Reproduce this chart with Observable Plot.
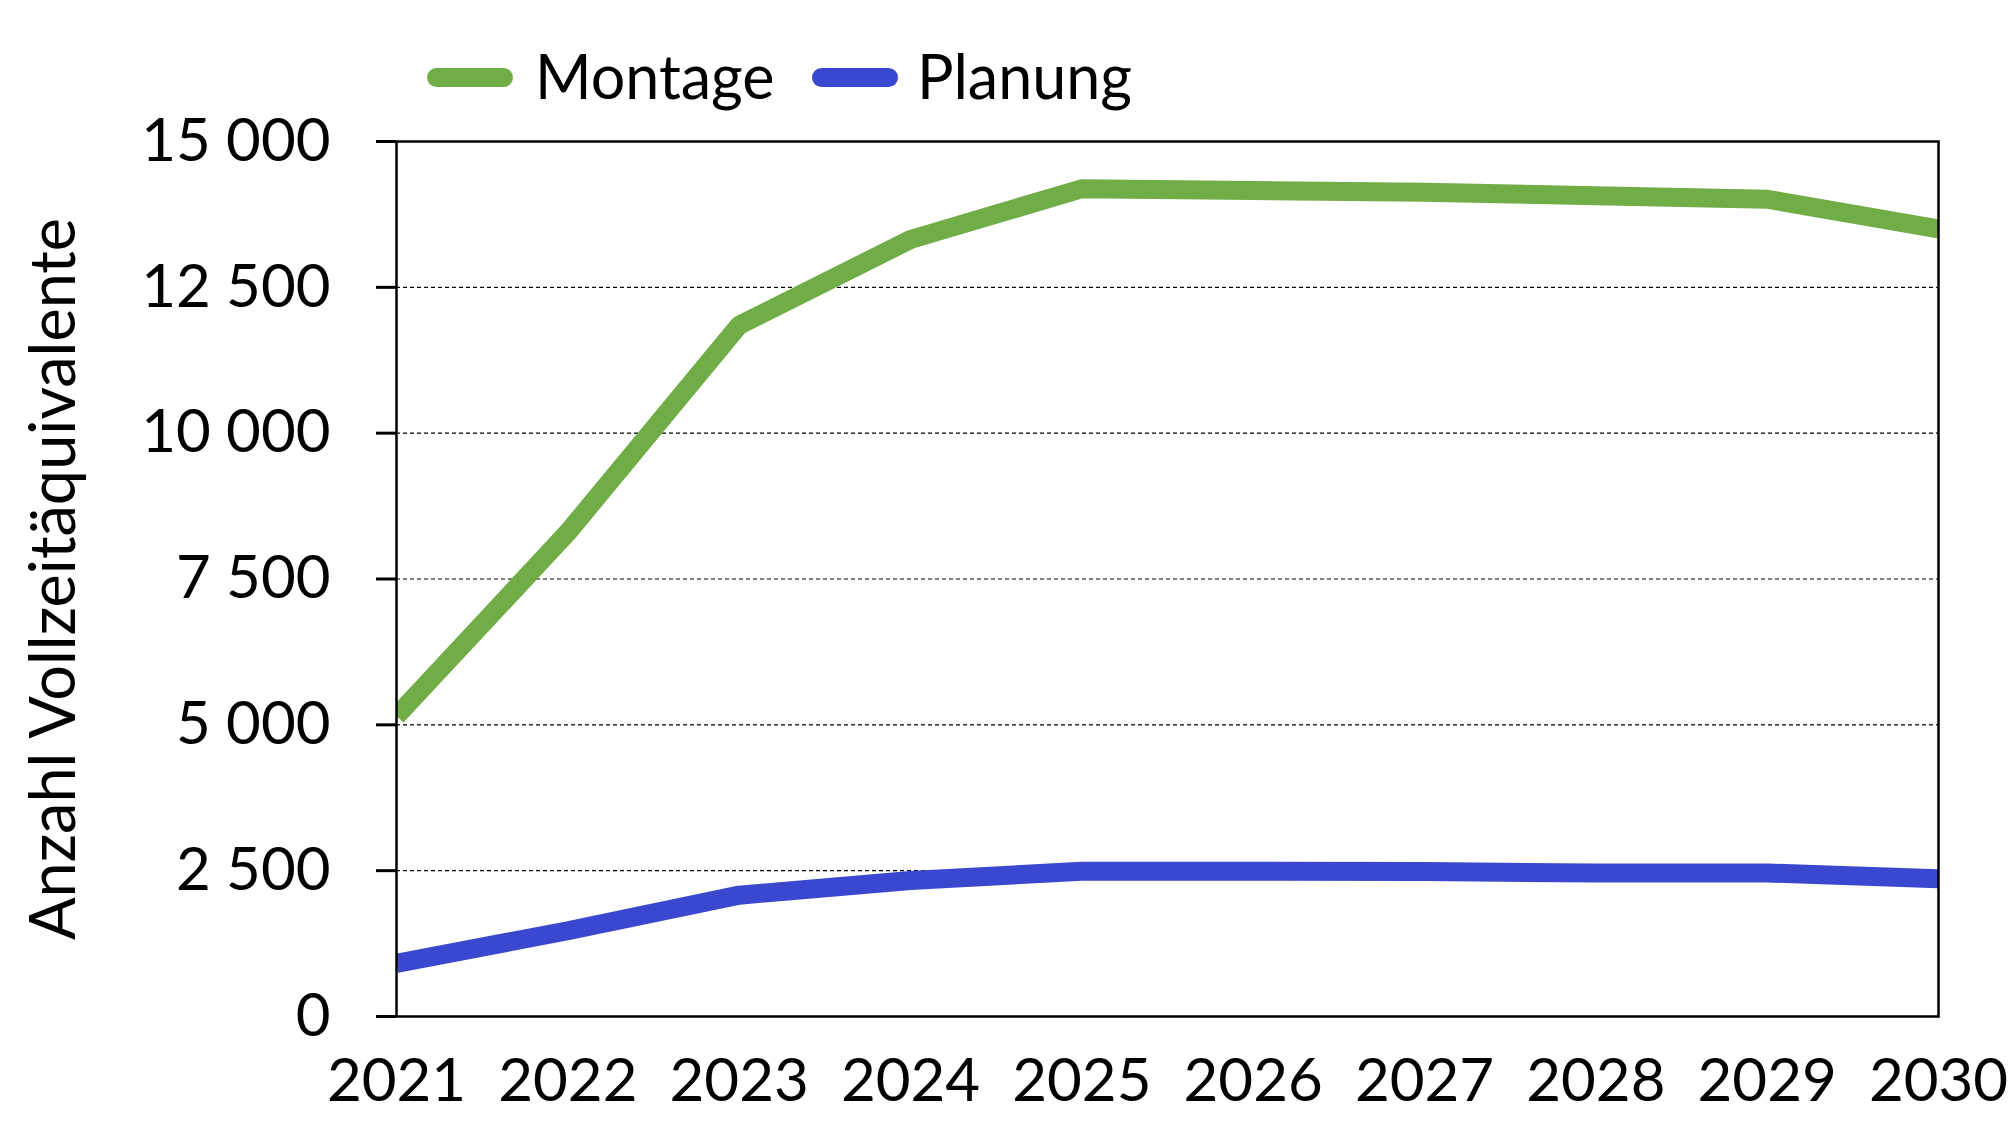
<!DOCTYPE html>
<html>
<head>
<meta charset="utf-8">
<script src="https://cdn.jsdelivr.net/npm/d3@7"></script>
<script src="https://cdn.jsdelivr.net/npm/@observablehq/plot@0.6"></script>
<style>
  html, body { margin: 0; padding: 0; background: #fff; width: 2012px; height: 1125px; overflow: hidden; }
  #legend { position: relative; height: 40px; width: 2012px; font-family: Lato, "Open Sans", sans-serif; font-size: 61px; color: #000; z-index: 2; }
  .sw { position: absolute; height: 19px; border-radius: 10px; }
  .lt { position: absolute; line-height: 1; }
  #chart { position: relative; z-index: 1; }
  #chart svg { display: block; overflow: visible; }
</style>
</head>
<body>
<div id="legend"></div>
<div id="chart"></div>
<script>
const years = [2021, 2022, 2023, 2024, 2025, 2026, 2027, 2028, 2029, 2030];
const montage = [5150, 8300, 11850, 13320, 14190, 14160, 14130, 14070, 14010, 13500];
const planung = [910, 1470, 2080, 2330, 2490, 2490, 2485, 2460, 2460, 2360];
const seriesNames = ["Montage", "Planung"];
const seriesColors = ["#70ad47", "#3a47cf"];
const yTicks = [0, 2500, 5000, 7500, 10000, 12500, 15000];
const gridTicks = [2500, 5000, 7500, 10000, 12500];
const yLabel = "Anzahl Vollzeitäquivalente";

const data = [];
years.forEach((y, i) => {
  data.push({year: y, value: montage[i], series: seriesNames[0]});
  data.push({year: y, value: planung[i], series: seriesNames[1]});
});

// legend
const legend = document.getElementById("legend");
const legendPos = [{sw: 427, tx: 535}, {sw: 812, tx: 917}];
seriesNames.forEach((name, i) => {
  const s = document.createElement("div");
  s.className = "sw";
  s.style.left = legendPos[i].sw + "px";
  s.style.width = "86px";
  s.style.top = "68px";
  s.style.background = seriesColors[i];
  legend.appendChild(s);
  const t = document.createElement("div");
  t.className = "lt";
  t.style.left = legendPos[i].tx + "px";
  t.style.top = "45px";
  t.textContent = name;
  legend.appendChild(t);
});

const fmt = d => d3.format(",")(d).replace(/,/g, " ");

const chart = Plot.plot({
  width: 2012,
  height: 1085,
  marginLeft: 396,
  marginRight: 74,
  marginTop: 101,
  marginBottom: 109,
  style: {fontFamily: "Lato, 'Open Sans', sans-serif", fontSize: "60px", color: "#000", background: "transparent", overflow: "visible"},
  x: {domain: [2021, 2030]},
  y: {domain: [0, 15000]},
  color: {domain: seriesNames, range: seriesColors},
  marks: [
    Plot.ruleY(gridTicks, {stroke: "#000", strokeWidth: 1.2, strokeDasharray: "4,3"}),
    Plot.line(data, {x: "year", y: "value", z: "series", stroke: "series", strokeWidth: 19, strokeLinejoin: "miter", strokeLinecap: "butt", clip: true}),
    Plot.frame({stroke: "#000", strokeWidth: 2.5}),
    Plot.axisY({ticks: yTicks, tickSize: 20, tickPadding: 46, tickFormat: fmt, strokeWidth: 3, label: null}),
    Plot.axisX({ticks: years, tickSize: 0, tickPadding: 42, tickFormat: d => String(d), label: null}),
    Plot.text([yLabel], {frameAnchor: "left", dx: -342, rotate: -90, textAnchor: "middle", lineAnchor: "middle", fontSize: 63, fill: "#000"})
  ]
});
document.getElementById("chart").appendChild(chart);
</script>
</body>
</html>
